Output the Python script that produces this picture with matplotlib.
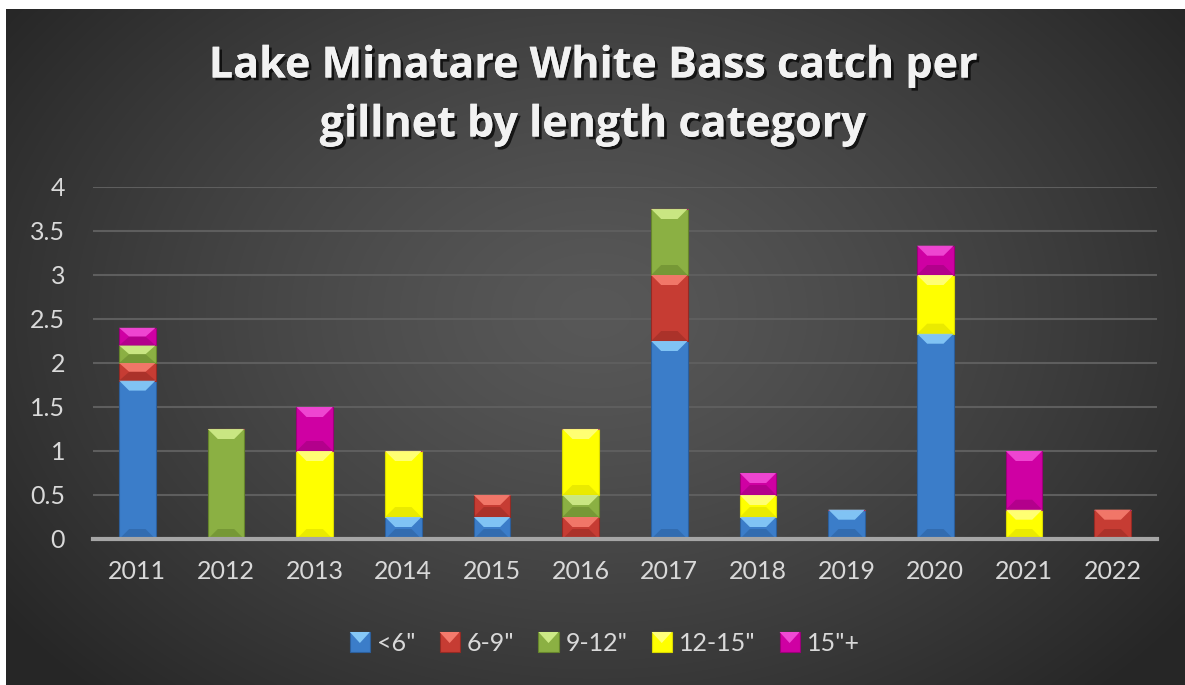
import numpy as np
import matplotlib
matplotlib.use("Agg")
import matplotlib.pyplot as plt
from matplotlib.patches import Polygon, Rectangle
from matplotlib.legend_handler import HandlerBase
import matplotlib.patheffects as pe

# ---- data ----
years = ["2011", "2012", "2013", "2014", "2015", "2016",
         "2017", "2018", "2019", "2020", "2021", "2022"]
series_names = ['<6"', '6-9"', '9-12"', '12-15"', '15"+']
under6 = [1.8, 0, 0, 0.25, 0.25, 0, 2.25, 0.25, 0.333, 2.333, 0, 0]
six_nine = [0.2, 0, 0, 0, 0.25, 0.25, 0.75, 0, 0, 0, 0, 0.333]
nine_twelve = [0.2, 1.25, 0, 0, 0, 0.25, 0.75, 0, 0, 0, 0, 0]
twelve_fifteen = [0, 0, 1.0, 0.75, 0, 0.75, 0, 0.25, 0, 0.667, 0.333, 0]
fifteen_plus = [0.2, 0, 0.5, 0, 0, 0, 0, 0.25, 0, 0.333, 0.667, 0]
y_ticks = [0, 0.5, 1, 1.5, 2, 2.5, 3, 3.5, 4]
title_lines = ["Lake Minatare White Bass catch per", "gillnet by length category"]

series_values = [under6, six_nine, nine_twelve, twelve_fifteen, fifteen_plus]
# (main face, light top bevel, dark bottom bevel)
palette = [
    ("#3b7dc9", "#85c8f7", "#2c5f9c"),
    ("#c63c33", "#f47a6c", "#952a24"),
    ("#8bb043", "#cdea86", "#66852c"),
    ("#ffff00", "#ffff7a", "#d9d900"),
    ("#cf00a3", "#f04ad4", "#9c007a"),
]

W, H = 1185, 685
fig = plt.figure(figsize=(W / 100, H / 100), dpi=100, facecolor="white")

# dark radial-gradient chart background
bg = fig.add_axes([6 / W, 0, 1 - 6 / W, 1 - 9 / H])
bg.set_axis_off()
gx, gy = np.meshgrid(np.linspace(0, 1, 600), np.linspace(0, 1, 350))
r = np.sqrt(((gx - 0.5) / 0.62) ** 2 + ((gy - 0.45) / 0.78) ** 2)
shade = 0.345 - (0.345 - 0.15) * np.clip(r, 0, 1) ** 1.3
bg.imshow(np.dstack([shade] * 3), extent=[0, 1, 0, 1], origin="upper",
          aspect="auto", interpolation="bilinear")
bg.set_xlim(0, 1)
bg.set_ylim(0, 1)

plt.rcParams["font.family"] = ["Lato", "DejaVu Sans"]

ax = fig.add_axes([93 / W, 146 / H, (1157 - 93) / W, (539 - 187) / H])
ax.patch.set_alpha(0)
x = np.arange(len(years))
ax.set_xlim(-0.5, len(years) - 0.5)
ax.set_ylim(0, 4)

# pixel scale of the data axes
p0 = ax.transData.transform((0, 0))
p1 = ax.transData.transform((1, 1))
sx, sy = p1[0] - p0[0], p1[1] - p0[1]


def bevel(axis, x0, y0, w, h, colors, px=10):
    main, light, dark = colors
    bx = min(px / sx, w / 2)
    by = min(px / sy, h / 2)
    x1, y1 = x0 + w, y0 + h
    top = [(x0, y1), (x1, y1), (x1 - bx, y1 - by), (x0 + bx, y1 - by)]
    bot = [(x0, y0), (x1, y0), (x1 - bx, y0 + by), (x0 + bx, y0 + by)]
    axis.add_patch(Polygon(top, closed=True, facecolor=light, edgecolor="none",
                           alpha=0.95, zorder=3))
    axis.add_patch(Polygon(bot, closed=True, facecolor=dark, edgecolor="none",
                           alpha=0.55, zorder=3))


bar_w = 0.41
bottom = np.zeros(len(years))
for name, vals, cols in zip(series_names, series_values, palette):
    vals = np.asarray(vals, dtype=float)
    bars = ax.bar(x, vals, bar_w, bottom=bottom, color=cols[0],
                  edgecolor=cols[2], linewidth=0.8, zorder=2, label=name)
    for b in bars:
        if b.get_height() > 0:
            bevel(ax, b.get_x(), b.get_y(), b.get_width(), b.get_height(), cols)
    bottom += vals

ax.set_yticks(y_ticks)
ax.set_yticklabels([f"{t:g}" for t in y_ticks])
ax.set_xticks(x)
ax.set_xticklabels(years)
ax.grid(axis="y", color="#5e5e5e", linewidth=1.5, zorder=0)
ax.set_axisbelow(True)
for s in ["top", "right", "left"]:
    ax.spines[s].set_visible(False)
ax.spines["bottom"].set_color("#a6a6a6")
ax.spines["bottom"].set_linewidth(3)
ax.spines["bottom"].set_zorder(4)
ax.tick_params(axis="both", length=0, labelcolor="#d9d9d9", labelsize=18)
ax.tick_params(axis="y", pad=20)
ax.tick_params(axis="x", pad=15)

# title, one line at a time with a soft drop shadow
shadow = [pe.withSimplePatchShadow(offset=(2, -2), shadow_rgbFace="black", alpha=0.7),
          pe.Normal()]
for line, yc in zip(title_lines, [1 - 66 / H, 1 - 125 / H]):
    fig.text(0.5, yc, line, ha="center", va="center", fontsize=31,
             fontweight="bold", color="#f2f2f2", family=["Open Sans", "DejaVu Sans"],
             path_effects=shadow)


class BevelHandler(HandlerBase):
    def __init__(self, colors):
        super().__init__()
        self.colors = colors

    def create_artists(self, legend, orig_handle, xdescent, ydescent, width,
                       height, fontsize, trans):
        main, light, dark = self.colors
        s = height * 1.05
        x0 = -xdescent + (width - s) / 2
        y0 = -ydescent + (height - s) / 2
        arts = [Rectangle((x0, y0), s, s, facecolor=main, edgecolor=dark,
                          linewidth=0.8, transform=trans)]
        tri = [(x0, y0 + s), (x0 + s, y0 + s), (x0 + s / 2, y0 + s * 0.45)]
        arts.append(Polygon(tri, closed=True, facecolor=light, edgecolor="none",
                            transform=trans))
        return arts


handles, labels = ax.get_legend_handles_labels()
leg = fig.legend(handles, labels, loc="center", bbox_to_anchor=(605 / W, 0.061),
                 ncol=5, frameon=False, fontsize=18, labelcolor="#d9d9d9",
                 handlelength=0.8, handleheight=0.8, handletextpad=0.3,
                 columnspacing=0.95,
                 handler_map={h: BevelHandler(c) for h, c in zip(handles, palette)})

fig.savefig("out.png", dpi=100, facecolor="white")
